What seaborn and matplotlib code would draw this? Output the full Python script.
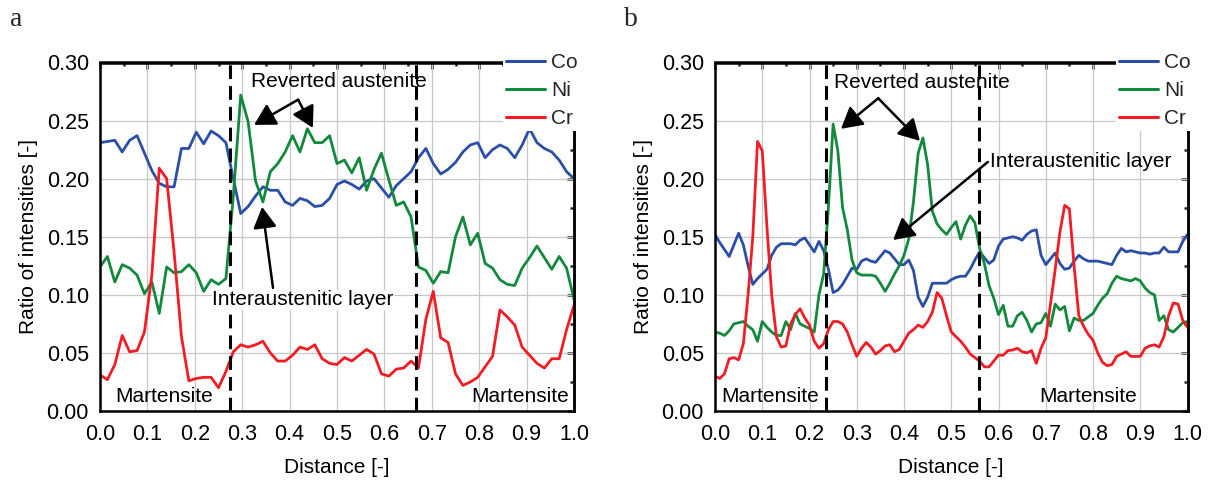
import numpy as np
import pandas as pd
import matplotlib
matplotlib.use("Agg")
import matplotlib.pyplot as plt
from matplotlib.ticker import MultipleLocator
import seaborn as sns

# ---------------- data ----------------
# line profile a (65 points, equally spaced along the normalised distance)
co_a = [0.231, 0.232, 0.233, 0.223, 0.233, 0.237, 0.222, 0.207, 0.196, 0.193,
        0.193, 0.226, 0.226, 0.240, 0.230, 0.241, 0.237, 0.231, 0.200, 0.170,
        0.176, 0.185, 0.193, 0.190, 0.190, 0.180, 0.177, 0.183, 0.181, 0.176,
        0.177, 0.183, 0.195, 0.198, 0.195, 0.191, 0.198, 0.200, 0.192, 0.184,
        0.194, 0.200, 0.206, 0.218, 0.226, 0.213, 0.204, 0.208, 0.214, 0.223,
        0.229, 0.231, 0.218, 0.225, 0.229, 0.226, 0.218, 0.229, 0.243, 0.231,
        0.226, 0.223, 0.216, 0.206, 0.200]
ni_a = [0.124, 0.133, 0.111, 0.126, 0.123, 0.117, 0.101, 0.111, 0.084, 0.124,
        0.119, 0.120, 0.126, 0.119, 0.103, 0.113, 0.109, 0.114, 0.185, 0.272,
        0.249, 0.198, 0.180, 0.206, 0.213, 0.223, 0.237, 0.223, 0.243, 0.231,
        0.231, 0.237, 0.213, 0.216, 0.205, 0.218, 0.190, 0.208, 0.222, 0.199,
        0.177, 0.180, 0.167, 0.124, 0.121, 0.110, 0.120, 0.119, 0.150, 0.167,
        0.143, 0.153, 0.127, 0.123, 0.113, 0.109, 0.108, 0.123, 0.132, 0.142,
        0.132, 0.122, 0.133, 0.123, 0.096]
cr_a = [0.031, 0.027, 0.040, 0.065, 0.051, 0.052, 0.068, 0.117, 0.209, 0.200,
        0.137, 0.064, 0.026, 0.028, 0.029, 0.029, 0.020, 0.034, 0.051, 0.057,
        0.055, 0.057, 0.060, 0.050, 0.043, 0.043, 0.048, 0.055, 0.053, 0.057,
        0.045, 0.041, 0.040, 0.046, 0.043, 0.048, 0.053, 0.049, 0.032, 0.030,
        0.036, 0.037, 0.043, 0.037, 0.079, 0.103, 0.063, 0.059, 0.032, 0.022,
        0.025, 0.029, 0.038, 0.047, 0.087, 0.081, 0.074, 0.055, 0.048, 0.041,
        0.037, 0.045, 0.045, 0.070, 0.091]

# line profile b (101 points, equally spaced along the normalised distance)
co_b = [0.152, 0.145, 0.139, 0.133, 0.143, 0.153, 0.143, 0.125, 0.109, 0.114,
        0.118, 0.122, 0.134, 0.141, 0.144, 0.144, 0.144, 0.143, 0.147, 0.149,
        0.143, 0.137, 0.146, 0.138, 0.122, 0.102, 0.104, 0.109, 0.116, 0.123,
        0.122, 0.129, 0.131, 0.129, 0.128, 0.133, 0.138, 0.136, 0.131, 0.126,
        0.126, 0.130, 0.121, 0.098, 0.090, 0.098, 0.110, 0.110, 0.110, 0.110,
        0.113, 0.115, 0.116, 0.116, 0.122, 0.130, 0.137, 0.132, 0.127, 0.130,
        0.142, 0.148, 0.149, 0.150, 0.149, 0.147, 0.152, 0.155, 0.156, 0.134,
        0.126, 0.131, 0.136, 0.127, 0.122, 0.123, 0.129, 0.134, 0.131, 0.129,
        0.129, 0.129, 0.128, 0.127, 0.126, 0.134, 0.140, 0.137, 0.138, 0.137,
        0.136, 0.136, 0.135, 0.136, 0.136, 0.141, 0.137, 0.137, 0.137, 0.146,
        0.152]
ni_b = [0.068, 0.067, 0.065, 0.069, 0.075, 0.076, 0.077, 0.073, 0.070, 0.060,
        0.077, 0.072, 0.068, 0.065, 0.065, 0.077, 0.070, 0.084, 0.075, 0.073,
        0.071, 0.068, 0.100, 0.118, 0.175, 0.247, 0.224, 0.175, 0.156, 0.130,
        0.119, 0.117, 0.117, 0.117, 0.116, 0.110, 0.103, 0.110, 0.118, 0.125,
        0.134, 0.148, 0.180, 0.222, 0.235, 0.212, 0.172, 0.161, 0.156, 0.152,
        0.158, 0.163, 0.148, 0.160, 0.168, 0.162, 0.140, 0.127, 0.108, 0.097,
        0.083, 0.091, 0.073, 0.073, 0.082, 0.085, 0.078, 0.068, 0.075, 0.076,
        0.084, 0.073, 0.092, 0.087, 0.090, 0.069, 0.080, 0.078, 0.078, 0.081,
        0.084, 0.091, 0.097, 0.101, 0.110, 0.116, 0.114, 0.113, 0.112, 0.114,
        0.112, 0.106, 0.102, 0.100, 0.078, 0.082, 0.070, 0.068, 0.072, 0.076,
        0.077]
cr_b = [0.030, 0.028, 0.032, 0.045, 0.046, 0.044, 0.058, 0.100, 0.150, 0.232,
        0.224, 0.158, 0.100, 0.064, 0.055, 0.056, 0.075, 0.083, 0.088, 0.080,
        0.074, 0.060, 0.054, 0.058, 0.070, 0.077, 0.077, 0.075, 0.068, 0.057,
        0.047, 0.054, 0.059, 0.055, 0.049, 0.052, 0.056, 0.057, 0.051, 0.053,
        0.060, 0.067, 0.070, 0.074, 0.072, 0.077, 0.085, 0.102, 0.097, 0.082,
        0.068, 0.064, 0.060, 0.055, 0.049, 0.046, 0.043, 0.038, 0.038, 0.043,
        0.048, 0.048, 0.052, 0.0525, 0.054, 0.051, 0.050, 0.052, 0.041, 0.054,
        0.063, 0.092, 0.122, 0.154, 0.177, 0.174, 0.125, 0.082, 0.073, 0.066,
        0.061, 0.050, 0.042, 0.039, 0.040, 0.047, 0.049, 0.051, 0.047, 0.047,
        0.047, 0.054, 0.056, 0.057, 0.055, 0.064, 0.082, 0.093, 0.092, 0.078,
        0.072]

elements = ["Co", "Ni", "Cr"]
palette = {"Co": "#2B4EA6", "Ni": "#12893C", "Cr": "#F21D24"}

# phase boundaries (dashed)
bounds_a = [0.274, 0.667]
bounds_b = [0.234, 0.559]
x_ticks = [0.0, 0.1, 0.2, 0.3, 0.4, 0.5, 0.6, 0.7, 0.8, 0.9, 1.0]
y_ticks = [0.00, 0.05, 0.10, 0.15, 0.20, 0.25, 0.30]


def long_table(series):
    frames = []
    for name, vals in zip(elements, series):
        frames.append(pd.DataFrame({"Distance": np.linspace(0.0, 1.0, len(vals)),
                                    "Ratio": vals, "Element": name}))
    return pd.concat(frames, ignore_index=True)


df_a = long_table([co_a, ni_a, cr_a])
df_b = long_table([co_b, ni_b, cr_b])

# ---------------- style ----------------
sns.set_theme(style="white")
plt.rcParams["font.family"] = ["Liberation Sans", "DejaVu Sans"]
plt.rcParams["axes.edgecolor"] = "black"
plt.rcParams["axes.linewidth"] = 1.8

W, H = 1213, 483
fig = plt.figure(figsize=(W / 100, H / 100), dpi=100)

FS = 15      # annotation / label size
TFS = 15.5   # tick label size


def px_box(left, top, right, bottom):
    return [left / W, 1 - bottom / H, (right - left) / W, (bottom - top) / H]


ax_a = fig.add_axes(px_box(100, 62.5, 574, 411))
ax_b = fig.add_axes(px_box(715, 62.5, 1187.5, 411))


def style_axes(ax, data, bounds, legend_anchor):
    sns.lineplot(data=data, x="Distance", y="Ratio", hue="Element",
                 hue_order=elements, palette=palette, linewidth=2.0,
                 ax=ax, legend=True)
    ax.set_xlim(0, 1)
    ax.set_ylim(0, 0.30)
    ax.set_xticks(x_ticks)
    ax.set_yticks(y_ticks)
    ax.set_xticklabels([f"{t:.1f}" for t in x_ticks], fontsize=TFS)
    ax.set_yticklabels([f"{t:.2f}" for t in y_ticks], fontsize=TFS)
    ax.xaxis.set_minor_locator(MultipleLocator(0.05))
    ax.yaxis.set_minor_locator(MultipleLocator(0.025))
    ax.tick_params(which="major", direction="out", length=5, width=1.8,
                   colors="black")
    ax.tick_params(axis="x", which="major", pad=4.5)
    ax.tick_params(axis="y", which="major", pad=3)
    ax.tick_params(which="minor", direction="out", length=3, width=1.8,
                   colors="black")
    ax.grid(True, which="major", color="#C8C8C8", linewidth=0.9)
    ax.set_axisbelow(True)
    for sp in ax.spines.values():
        sp.set_color("black")
        sp.set_linewidth(1.8)
    # inward ticks on top and right
    sx = ax.secondary_xaxis("top")
    sx.set_xticks(x_ticks)
    sx.xaxis.set_minor_locator(MultipleLocator(0.05))
    sx.tick_params(which="major", direction="in", length=5, width=1.8,
                   labeltop=False)
    sx.tick_params(which="minor", direction="in", length=3, width=1.8)
    sx.set_xticklabels([])
    sy = ax.secondary_yaxis("right")
    sy.set_yticks(y_ticks)
    sy.yaxis.set_minor_locator(MultipleLocator(0.025))
    sy.tick_params(which="major", direction="in", length=5, width=1.8)
    sy.tick_params(which="minor", direction="in", length=3, width=1.8)
    sy.set_yticklabels([])
    for s in (sx, sy):
        for sp in s.spines.values():
            sp.set_linewidth(1.8)
            sp.set_color("black")
        s.set_zorder(0)

    ax.set_xlabel("Distance [-]", fontsize=FS, color="black", labelpad=9)
    ax.set_ylabel("Ratio of intensities [-]", fontsize=FS, color="black",
                  labelpad=6)
    for b in bounds:
        ax.axvline(b, color="black", linewidth=2.2, linestyle=(0, (4.5, 2.3)),
                   zorder=3)
    leg = ax.legend(loc="lower left", bbox_to_anchor=legend_anchor,
                    bbox_transform=fig.transFigure, frameon=True,
                    fontsize=FS, borderpad=0.15, borderaxespad=0,
                    handlelength=1.85, handletextpad=0.3, labelspacing=0.42,
                    fancybox=False, framealpha=1.0, title=None)
    leg.get_frame().set_edgecolor("none")
    leg.get_frame().set_facecolor("white")
    for line in leg.get_lines():
        line.set_linewidth(2.2)
    leg.set_zorder(10)


style_axes(ax_a, df_a, bounds_a, (503 / W, 1 - 131 / H))
style_axes(ax_b, df_b, bounds_b, (1116 / W, 1 - 131 / H))

arrow_kw = dict(arrowstyle="-|>,head_length=0.8,head_width=0.45",
                color="black", lw=1.8, mutation_scale=16, shrinkA=0, shrinkB=0)

# panel a annotations
ax_a.text(0.504, 0.2833, "Reverted austenite", ha="center", va="center",
          fontsize=FS, color="black", zorder=6)
for tip in [(0.325, 0.2463), (0.449, 0.2437)]:
    ax_a.annotate("", xy=tip, xytext=(0.418, 0.268), arrowprops=arrow_kw,
                  zorder=6)
ax_a.text(0.428, 0.0956, "Interaustenitic layer", ha="center", va="center",
          fontsize=FS, color="black", zorder=6,
          bbox=dict(facecolor="white", edgecolor="none", pad=0.5))
ax_a.annotate("", xy=(0.342, 0.1757), xytext=(0.365, 0.106),
              arrowprops=arrow_kw, zorder=6)
ax_a.text(0.135, 0.0123, "Martensite", ha="center", va="center", fontsize=FS,
          color="black", zorder=6)
ax_a.text(0.886, 0.0123, "Martensite", ha="center", va="center", fontsize=FS,
          color="black", zorder=6)

# panel b annotations
ax_b.text(0.437, 0.283, "Reverted austenite", ha="center", va="center",
          fontsize=FS, color="black", zorder=6)
for tip in [(0.2666, 0.2429), (0.4337, 0.2325)]:
    ax_b.annotate("", xy=tip, xytext=(0.3455, 0.2692), arrowprops=arrow_kw,
                  zorder=6)
ax_b.text(0.583, 0.2147, "Interaustenitic layer", ha="left", va="center",
          fontsize=FS, color="black", zorder=6)
ax_b.annotate("", xy=(0.377, 0.1472), xytext=(0.5775, 0.2144),
              arrowprops=arrow_kw, zorder=6)
ax_b.text(0.116, 0.0123, "Martensite", ha="center", va="center", fontsize=FS,
          color="black", zorder=6)
ax_b.text(0.789, 0.0123, "Martensite", ha="center", va="center", fontsize=FS,
          color="black", zorder=6)

# panel letters
fig.text(16 / W, 1 - 20 / H, "a", fontsize=20, family="Liberation Serif",
         ha="center", va="center")
fig.text(631 / W, 1 - 20 / H, "b", fontsize=20, family="Liberation Serif",
         ha="center", va="center")

fig.savefig("out.png", dpi=100)
